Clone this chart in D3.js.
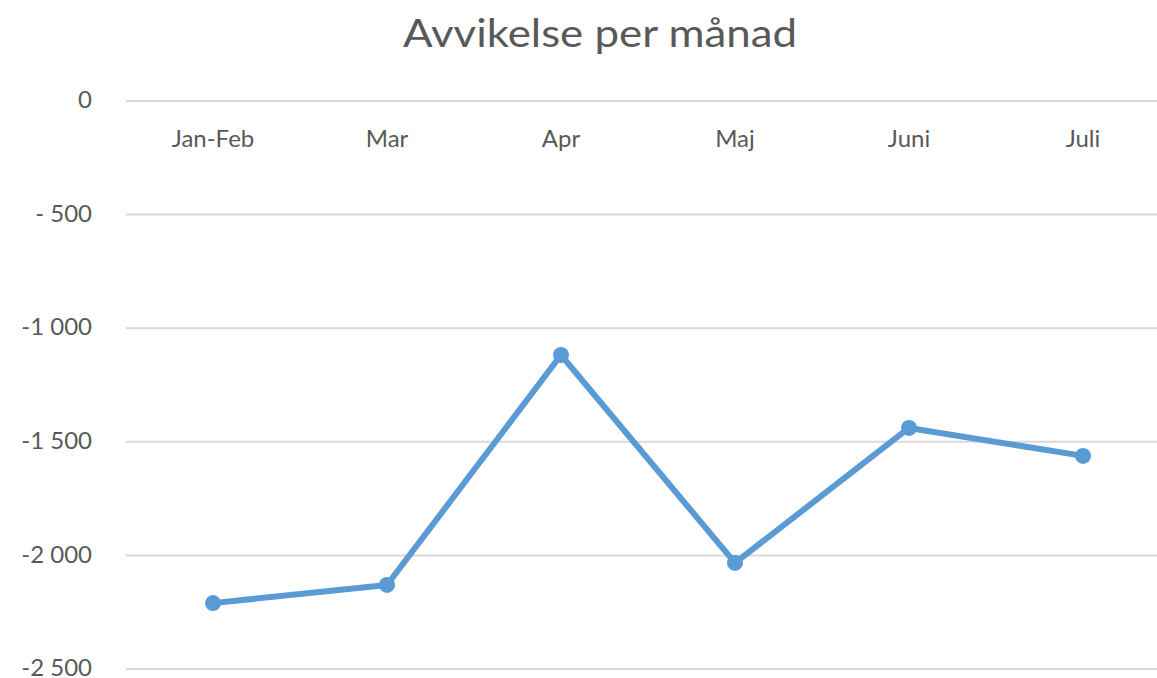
<!DOCTYPE html>
<html>
<head>
<meta charset="utf-8">
<script src="https://cdn.jsdelivr.net/npm/d3@7"></script>
<style>
  body { margin: 0; background: #fff; }
  text { font-family: Lato, 'Open Sans', sans-serif; fill: #595959; }
</style>
</head>
<body>
<svg id="chart" width="1157" height="678"></svg>
<script>
const title = 'Avvikelse per månad'
const categories = ['Jan-Feb', 'Mar', 'Apr', 'Maj', 'Juni', 'Juli']
const values = [-2210, -2130, -1118, -2033, -1439, -1562]
const yTicks = [0, -500, -1000, -1500, -2000, -2500]
const yTickLabels = ['0', '- 500', '-1 000', '-1 500', '-2 000', '-2 500']

const svg = d3.select('#chart')

const x = d3.scaleBand()
  .domain(categories)
  .range([126, 1170])

const y = d3.scaleLinear()
  .domain([-2500, 0])
  .range([669, 101])

svg.append('text')
  .attr('x', 600)
  .attr('y', 47)
  .attr('text-anchor', 'middle')
  .attr('font-size', 39)
  .attr('textLength', 394)
  .attr('lengthAdjust', 'spacingAndGlyphs')
  .text(title)

// gridlines
svg.append('g')
  .selectAll('line')
  .data(yTicks)
  .join('line')
  .attr('x1', 126)
  .attr('x2', 1157)
  .attr('y1', d => y(d))
  .attr('y2', d => y(d))
  .attr('stroke', '#d9d9d9')
  .attr('stroke-width', 2)

// y labels
svg.append('g')
  .selectAll('text')
  .data(yTicks)
  .join('text')
  .attr('x', 92)
  .attr('y', d => y(d))
  .attr('dy', '0.3em')
  .attr('text-anchor', 'end')
  .attr('font-size', 24)
  .text((d, i) => yTickLabels[i])

// category labels sit just under the zero line
svg.append('g')
  .selectAll('text')
  .data(categories)
  .join('text')
  .attr('x', d => x(d) + x.bandwidth() / 2)
  .attr('y', 147)
  .attr('text-anchor', 'middle')
  .attr('font-size', 24)
  .text(d => d)

const line = d3.line()
  .x((d, i) => x(categories[i]) + x.bandwidth() / 2)
  .y(d => y(d))

svg.append('path')
  .datum(values)
  .attr('d', line)
  .attr('fill', 'none')
  .attr('stroke', '#5b9bd5')
  .attr('stroke-width', 6)
  .attr('stroke-linejoin', 'round')

svg.append('g')
  .selectAll('circle')
  .data(values)
  .join('circle')
  .attr('cx', (d, i) => x(categories[i]) + x.bandwidth() / 2)
  .attr('cy', d => y(d))
  .attr('r', 8)
  .attr('fill', '#5b9bd5')
</script>
</body>
</html>
